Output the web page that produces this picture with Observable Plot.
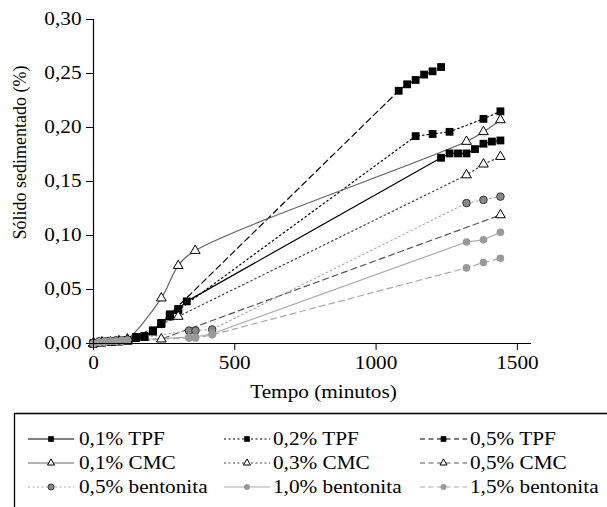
<!DOCTYPE html>
<html><head><meta charset="utf-8">
<script src="https://cdn.jsdelivr.net/npm/d3@7"></script>
<script src="https://cdn.jsdelivr.net/npm/@observablehq/plot@0.6"></script>
<style>
html,body{margin:0;padding:0;background:#fff;}
#chart,#legend{width:607px;display:block;}
svg text{font-family:"Liberation Serif","Times New Roman",serif;}
</style></head><body><div id="chart"></div><div id="legend"></div>
<script>
// ---- data ----
const seriesNames = ["0,1% TPF","0,2% TPF","0,5% TPF","0,1% CMC","0,3% CMC","0,5% CMC","0,5% bentonita","1,0% bentonita","1,5% bentonita"];
const xTicks = [0, 500, 1000, 1500];
const yTicks = [0, 0.05, 0.10, 0.15, 0.20, 0.25, 0.30];

const t_tpf01 = [0,30,60,90,120,150,180,210,240,270,300,330,1230,1260,1290,1320,1350,1380,1410,1440];
const v_tpf01 = [0,0.001,0.002,0.002,0.003,0.006,0.006,0.012,0.019,0.026,0.032,0.039,0.172,0.176,0.176,0.176,0.180,0.185,0.187,0.188];
const t_tpf02 = [0,30,60,90,120,150,180,210,240,270,300,1140,1200,1260,1380,1440];
const v_tpf02 = [0,0.001,0.002,0.002,0.003,0.005,0.006,0.011,0.018,0.025,0.031,0.192,0.194,0.196,0.208,0.215];
const t_tpf05 = [0,30,60,90,120,150,180,210,240,270,1080,1110,1140,1170,1200,1230];
const v_tpf05 = [0,0.001,0.002,0.002,0.003,0.006,0.007,0.012,0.019,0.027,0.234,0.240,0.244,0.249,0.252,0.256];
const t_cmc01 = [0,30,60,90,120,240,300,360,1320,1380,1440];
const v_cmc01 = [0,0.001,0.001,0.002,0.004,0.042,0.072,0.086,0.187,0.196,0.207];
const t_cmc03 = [0,30,60,90,120,300,1320,1380,1440];
const v_cmc03 = [0,0.001,0.001,0.002,0.003,0.025,0.156,0.166,0.173];
const t_cmc05 = [0,30,60,90,120,240,1440];
const v_cmc05 = [0,0.001,0.001,0.002,0.002,0.004,0.119];
const t_ben05 = [0,20,40,60,80,100,120,338,361,420,1320,1380,1440];
const v_ben05 = [0,0.002,0.002,0.002,0.003,0.003,0.003,0.012,0.012,0.013,0.130,0.133,0.136];
const t_ben10 = [0,20,40,60,80,100,120,338,361,420,1320,1380,1440];
const v_ben10 = [0,0.001,0.002,0.002,0.002,0.003,0.003,0.006,0.006,0.009,0.094,0.096,0.103];
const t_ben15 = [0,20,40,60,80,100,120,338,361,420,1320,1380,1440];
const v_ben15 = [0,0.001,0.001,0.002,0.002,0.002,0.003,0.005,0.005,0.008,0.070,0.075,0.079];

const seriesT = [t_tpf01,t_tpf02,t_tpf05,t_cmc01,t_cmc03,t_cmc05,t_ben05,t_ben10,t_ben15];
const seriesV = [v_tpf01,v_tpf02,v_tpf05,v_cmc01,v_cmc03,v_cmc05,v_ben05,v_ben10,v_ben15];

// ---- styles ----
const DOT = "1.5,3", DASH = "6,4";
const styles = [
  {stroke:"#000", dash:null, ld:null, curve:"linear", symbol:"square", r:4.4, fill:"#000", ms:"none", lr:3.2},
  {stroke:"#000", dash:DOT, ld:"2,2.5", curve:"linear", symbol:"square", r:4.4, fill:"#000", ms:"none", lr:3.2},
  {stroke:"#000", dash:DASH, ld:"5,3.5", curve:"linear", symbol:"square", r:4.4, fill:"#000", ms:"none", lr:3.2},
  {stroke:"#666", dash:null, ld:null, curve:"catmull-rom", symbol:"triangle", r:3.6, fill:"#fff", ms:"#000", lr:2.6},
  {stroke:"#444", dash:DOT, ld:"2,2.5", curve:"linear", symbol:"triangle", r:3.6, fill:"#fff", ms:"#000", lr:2.6},
  {stroke:"#555", dash:DASH, ld:"5,3.5", curve:"linear", symbol:"triangle", r:3.6, fill:"#fff", ms:"#000", lr:2.6},
  {stroke:"#aaa", dash:DOT, ld:"2,2.5", curve:"linear", symbol:"circle", r:3.8, fill:"#888", ms:"#333", lr:3},
  {stroke:"#aaa", dash:null, ld:null, curve:"linear", symbol:"circle", r:3.8, fill:"#999", ms:"none", lr:3},
  {stroke:"#aaa", dash:DASH, ld:"5,3.5", curve:"linear", symbol:"circle", r:3.8, fill:"#999", ms:"none", lr:3}
];

const tables = seriesNames.map((name, k) => seriesT[k].map((t, i) => ({series: name, t, v: seriesV[k][i]})));

const marks = [];
tables.forEach((rows, k) => {
  const s = styles[k];
  marks.push(Plot.line(rows, {x:"t", y:"v", stroke:s.stroke, strokeWidth:1.2, strokeDasharray:s.dash || undefined, curve:s.curve}));
});
tables.forEach((rows, k) => {
  const s = styles[k];
  marks.push(Plot.dot(rows, {x:"t", y:"v", symbol:s.symbol, r:s.r, fill:s.fill, stroke:s.ms, strokeWidth:1}));
});

const fmt = d => d.toFixed(2).replace(".", ",");

const chart = Plot.plot({
  width: 607, height: 405,
  marginLeft: 93, marginRight: 76, marginTop: 19, marginBottom: 62,
  style: {fontFamily:"Liberation Serif, 'Times New Roman', serif", fontSize:"18px", background:"#fff", color:"#000", overflow:"visible"},
  x: {domain:[0,1550]},
  y: {domain:[0,0.30]},
  marks: [
    ...marks,
    Plot.ruleY([0], {stroke:"#000", strokeWidth:1.2}),
    Plot.ruleX([0], {stroke:"#000", strokeWidth:1.2}),
    Plot.axisX(xTicks, {tickSize:7, tickPadding:6, label:null, tickFormat:d => String(d), stroke:"#000", fill:"#000"}),
    Plot.axisY(yTicks, {tickSize:7, tickPadding:5, label:null, tickFormat:fmt, stroke:"#000", fill:"#000"}),
    Plot.text(["Tempo (minutos)"], {frameAnchor:"bottom", textAnchor:"middle", lineAnchor:"middle", dy:49, dx:11, fontSize:18, fill:"#000"}),
    Plot.text(["Sólido sedimentado (%)"], {frameAnchor:"left", textAnchor:"middle", lineAnchor:"middle", rotate:-90, dx:-73, dy:-29, fontSize:18, fill:"#000"})
  ]
});
document.getElementById("chart").appendChild(chart);

// ---- legend ----
const lg = d3.select("#legend").append("svg").attr("width", 607).attr("height", 102)
  .style("display","block").style("font-family","Liberation Serif, 'Times New Roman', serif").style("font-size","18px");
lg.append("path").attr("d","M14.5,110V8.5H620").attr("fill","none").attr("stroke","#000").attr("stroke-width",1.3);
const colX = [[28,74,79],[224,270,273],[420,467,470]];
const rowY = [34, 58, 82];
seriesNames.forEach((name, k) => {
  const s = styles[k];
  const row = Math.floor(k/3), col = k % 3;
  const [x1, x2, tx] = colX[col];
  const y = rowY[row];
  const g = lg.append("g");
  g.append("line").attr("x1",x1).attr("x2",x2).attr("y1",y).attr("y2",y)
    .attr("stroke", s.stroke).attr("stroke-width",1.2).attr("stroke-dasharray", s.ld);
  const cx = (x1 + x2)/2;
  const sym = d3.symbol().type(s.symbol === "square" ? d3.symbolSquare : s.symbol === "triangle" ? d3.symbolTriangle : d3.symbolCircle).size(Math.PI*s.lr*s.lr);
  g.append("path").attr("d", sym()).attr("transform",`translate(${cx},${y})`)
    .attr("fill", s.fill).attr("stroke", s.ms).attr("stroke-width",1);
  g.append("text").attr("x", tx).attr("y", y).attr("dy","0.35em").attr("fill","#000").text(name);
});

// horizontal stretch of text to match the reference's wide type
function stretch(root, f){
  root.querySelectorAll("text").forEach(t => {
    const tr = (t.getAttribute("transform") || "") + ((t.parentNode && t.parentNode.getAttribute && t.parentNode.getAttribute("transform")) || "");
    if (tr.includes("rotate")) return;
    const L = t.getComputedTextLength();
    if (L > 0) { t.setAttribute("textLength", (L*f).toFixed(2)); t.setAttribute("lengthAdjust","spacingAndGlyphs"); }
  });
}
stretch(chart, 1.18);
stretch(lg.node(), 1.18);
</script>
</body></html>
